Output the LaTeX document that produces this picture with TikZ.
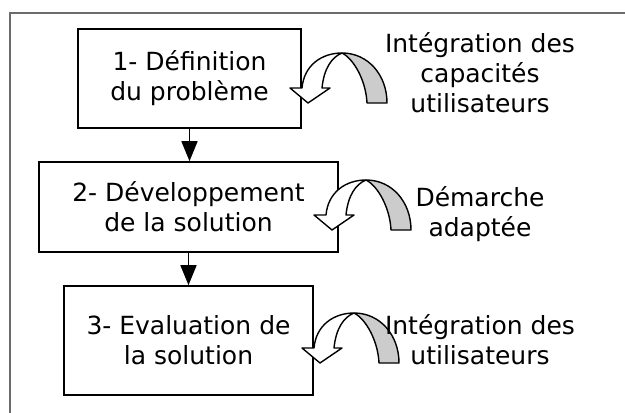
\documentclass[tikz,border=0pt]{standalone}
\usepackage{fontspec}
\setmainfont{DejaVu Sans}
\usepackage{tikz}
\usetikzlibrary{arrows.meta}

\begin{document}
\begin{tikzpicture}[
      x=0.5pt, y=-0.5pt,
      etape/.style={draw, line width=0.8pt, align=center, inner sep=0pt,
        font=\fontsize{12.5}{15}\selectfont},
      lbl/.style={align=center, font=\fontsize{12.5}{15}\selectfont},
      fleche/.style={line width=0.8pt, -{Triangle[length=10pt, width=8pt]}},
      courbe/.style={line width=0.7pt, line join=round}
    ]
    \useasboundingbox (0,0) rectangle (625,412);

    % Cadre
    \draw[gray!85!black, line width=1pt] (630,13) -- (10,13) -- (10,420);

    % Etapes
    \node[etape, minimum width=111.5pt, minimum height=49.5pt] (def) at (189.5,78.5)
      {1- Définition\\du problème};
    \node[etape, minimum width=149.5pt, minimum height=45pt] (dev) at (188.5,207)
      {2- Développement\\de la solution};
    \node[etape, minimum width=124.5pt, minimum height=54.5pt] (eval) at (188.5,340.5)
      {3- Evaluation de\\la solution};

    % Liaisons
    \draw[fleche] (def.south) -- (def.south |- dev.north);
    \draw[fleche] (dev.south) -- (dev.south |- eval.north);

    % Fleches courbes
    \foreach \tx/\ty in {308/103, 332/230, 320/363} {
      \begin{scope}[shift={(\tx,\ty)}]
        \filldraw[courbe, fill=gray!40] (34,-50) .. controls (60,-50) and (79,-28) .. (79,0)
          -- (59,0) .. controls (58,-22) and (46,-44) .. (34,-50) -- cycle;
        \filldraw[courbe, fill=white] (34,-50) .. controls (14,-50) and (-4,-38) .. (-6,-15)
          -- (-18,-15) -- (0,0) -- (22,-15) -- (14,-15)
          .. controls (16,-35) and (24,-46) .. (34,-50) -- cycle;
      \end{scope}
    }

    % Commentaires
    \node[lbl] (capa) at (480,73) {Intégration des\\capacités\\utilisateurs};
    \node[lbl] (dem) at (480,214) {Démarche\\adaptée};
    \node[lbl] (util) at (480,340) {Intégration des\\utilisateurs};
  \end{tikzpicture}
\end{document}
